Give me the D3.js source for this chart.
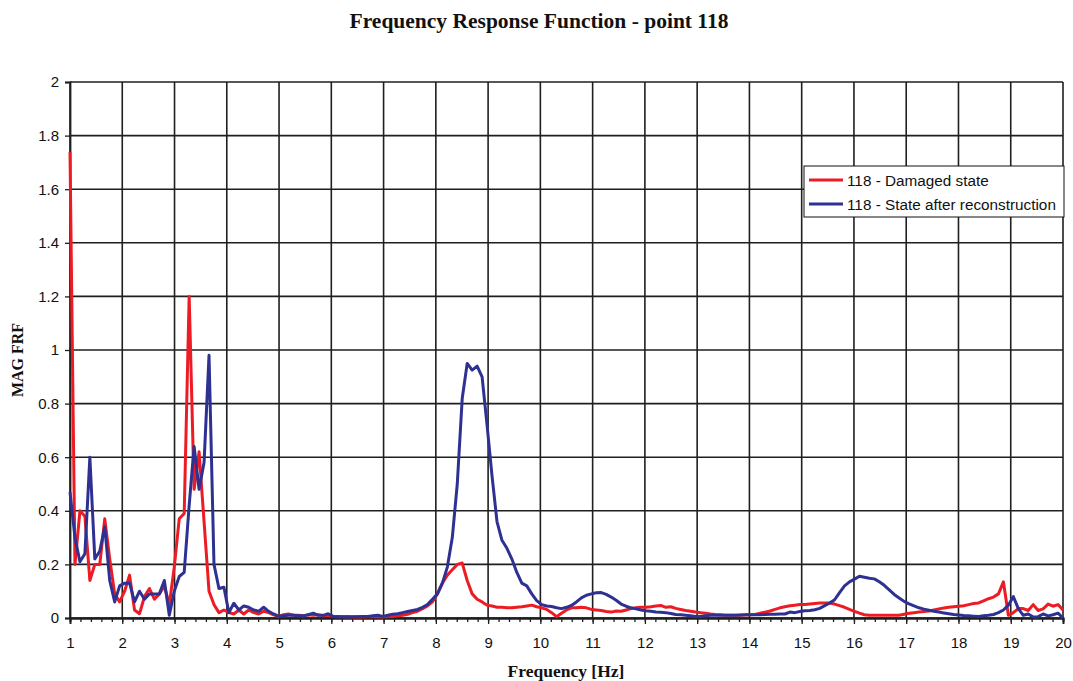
<!DOCTYPE html>
<html>
<head>
<meta charset="utf-8">
<script src="https://cdn.jsdelivr.net/npm/d3@7"></script>
<style>
  html, body { margin: 0; padding: 0; background: #fff; }
  svg { display: block; }
</style>
</head>
<body>
<svg id="chart" width="1073" height="681"></svg>
<script>
// Frequency grid: 201 spectral lines from 1 Hz to 20 Hz
const freqStart = 1;
const freqStep = 0.095;

// |FRF| magnitude, point 118, damaged state
const damaged = [
  1.74, 0.20, 0.40, 0.38, 0.14, 0.20, 0.20, 0.37, 0.22, 0.09,
  0.06, 0.10, 0.16, 0.03, 0.016, 0.08, 0.11, 0.07, 0.09, 0.12,
  0.05, 0.19, 0.37, 0.39, 1.20, 0.48, 0.62, 0.36, 0.10, 0.05,
  0.02, 0.03, 0.02, 0.015, 0.03, 0.015, 0.03, 0.02, 0.015, 0.025,
  0.02, 0.012, 0.006, 0.012, 0.015, 0.01, 0.01, 0.008, 0.012, 0.01,
  0.012, 0.008, 0.01, 0.006, 0.006, 0.005, 0.006, 0.004, 0.005, 0.004,
  0.005, 0.006, 0.005, 0.004, 0.006, 0.006, 0.008, 0.01, 0.014, 0.02,
  0.025, 0.035, 0.045, 0.06, 0.09, 0.13, 0.16, 0.18, 0.20, 0.205,
  0.14, 0.09, 0.07, 0.06, 0.048, 0.045, 0.04, 0.04, 0.038, 0.038,
  0.04, 0.042, 0.045, 0.048, 0.042, 0.038, 0.032, 0.02, 0.005, 0.018,
  0.03, 0.038, 0.038, 0.04, 0.038, 0.032, 0.03, 0.028, 0.024, 0.022,
  0.026, 0.025, 0.03, 0.035, 0.038, 0.04, 0.04, 0.042, 0.045, 0.047,
  0.04, 0.042, 0.036, 0.032, 0.028, 0.025, 0.022, 0.02, 0.018, 0.015,
  0.013, 0.012, 0.01, 0.01, 0.01, 0.01, 0.011, 0.012, 0.013, 0.018,
  0.022, 0.026, 0.032, 0.038, 0.042, 0.046, 0.048, 0.05, 0.05, 0.052,
  0.054, 0.056, 0.056, 0.056, 0.052, 0.046, 0.04, 0.032, 0.025, 0.018,
  0.012, 0.01, 0.01, 0.01, 0.01, 0.01, 0.01, 0.01, 0.014, 0.018,
  0.02, 0.022, 0.024, 0.026, 0.03, 0.034, 0.037, 0.04, 0.042, 0.044,
  0.046, 0.05, 0.054, 0.056, 0.064, 0.072, 0.078, 0.09, 0.135, 0.01,
  0.02, 0.035, 0.035, 0.028, 0.05, 0.028, 0.034, 0.052, 0.044, 0.05,
  0.03
];

// |FRF| magnitude, point 118, after reconstruction
const reconstructed = [
  0.47, 0.30, 0.21, 0.24, 0.60, 0.22, 0.25, 0.34, 0.14, 0.06,
  0.12, 0.13, 0.13, 0.06, 0.10, 0.07, 0.09, 0.09, 0.09, 0.14,
  0.01, 0.10, 0.155, 0.17, 0.42, 0.64, 0.48, 0.58, 0.98, 0.20,
  0.11, 0.115, 0.02, 0.055, 0.03, 0.045, 0.04, 0.03, 0.025, 0.04,
  0.025, 0.015, 0.007, 0.008, 0.01, 0.01, 0.008, 0.008, 0.012, 0.018,
  0.01, 0.01, 0.016, 0.006, 0.005, 0.005, 0.004, 0.005, 0.005, 0.006,
  0.006, 0.008, 0.01, 0.006, 0.01, 0.014, 0.016, 0.02, 0.024, 0.028,
  0.032, 0.04, 0.05, 0.07, 0.09, 0.13, 0.19, 0.30, 0.50, 0.82,
  0.95, 0.925, 0.94, 0.90, 0.72, 0.53, 0.36, 0.29, 0.26, 0.22,
  0.17, 0.13, 0.12, 0.09, 0.065, 0.05, 0.045, 0.043, 0.038, 0.035,
  0.04, 0.047, 0.06, 0.075, 0.085, 0.09, 0.094, 0.095, 0.088, 0.078,
  0.066, 0.052, 0.044, 0.038, 0.034, 0.03, 0.027, 0.025, 0.022, 0.021,
  0.02, 0.017, 0.013, 0.012, 0.01, 0.008, 0.006, 0.006, 0.008, 0.01,
  0.01, 0.01, 0.01, 0.01, 0.01, 0.011, 0.012, 0.012, 0.012, 0.012,
  0.013, 0.014, 0.014, 0.015, 0.015, 0.022, 0.02, 0.024, 0.027, 0.028,
  0.031, 0.036, 0.046, 0.056, 0.068, 0.095, 0.12, 0.135, 0.145, 0.156,
  0.152, 0.148, 0.146, 0.135, 0.122, 0.105, 0.088, 0.075, 0.062, 0.053,
  0.045, 0.038, 0.033, 0.029, 0.025, 0.022, 0.019, 0.016, 0.013, 0.011,
  0.009, 0.008, 0.007, 0.006, 0.008, 0.01, 0.013, 0.02, 0.03, 0.048,
  0.08, 0.035, 0.01, 0.015, 0.004, 0.005, 0.015, 0.008, 0.012, 0.018,
  0.0
];

const xTicks = d3.range(1, 21);            // 1 … 20 Hz
const xMinorTicks = d3.range(1, 20.001, 0.2);
const yTicks = [0, 0.2, 0.4, 0.6, 0.8, 1, 1.2, 1.4, 1.6, 1.8, 2];

const seriesNames = ["118 - Damaged state", "118 - State after reconstruction"];
const seriesColors = ["#ed1c24", "#2e3192"];

const svg = d3.select("#chart");
const margin = { left: 70, right: 10, top: 82, bottom: 63 };
const W = 1073, H = 681;
const x = d3.scaleLinear().domain([1, 20]).range([margin.left, W - margin.right]);
const y = d3.scaleLinear().domain([0, 2]).range([H - margin.bottom, margin.top]);

const gridColor = "#1f1f1f";
const sans = "'Liberation Sans', Arial, sans-serif";
const serif = "'Liberation Serif', 'Times New Roman', serif";

// Grid
const grid = svg.append("g");
grid.selectAll("line.v").data(xTicks).join("line")
  .attr("x1", d => x(d)).attr("x2", d => x(d))
  .attr("y1", y(0)).attr("y2", y(2))
  .attr("stroke", gridColor).attr("stroke-width", 1.6);
grid.selectAll("line.h").data(yTicks).join("line")
  .attr("x1", x(1)).attr("x2", x(20))
  .attr("y1", d => y(d)).attr("y2", d => y(d))
  .attr("stroke", gridColor).attr("stroke-width", 1.6);

// Axes
const xAxis = svg.append("g")
  .attr("transform", `translate(0,${y(0)})`)
  .call(d3.axisBottom(x).tickValues(xTicks).tickSize(6).tickPadding(13).tickFormat(d3.format("d")));
const xMinor = svg.append("g")
  .attr("transform", `translate(0,${y(0)})`)
  .call(d3.axisBottom(x).tickValues(xMinorTicks).tickSize(4).tickFormat(""));
const yAxis = svg.append("g")
  .attr("transform", `translate(${x(1)},0)`)
  .call(d3.axisLeft(y).tickValues(yTicks).tickSize(5).tickPadding(6).tickFormat(d => String(+d.toFixed(1))));

[xAxis, xMinor, yAxis].forEach(g => {
  g.select(".domain").attr("stroke", gridColor).attr("stroke-width", 1.8);
  g.selectAll(".tick line").attr("stroke", gridColor).attr("stroke-width", 1.3);
  g.selectAll(".tick text")
    .attr("fill", "#111")
    .style("font-family", sans)
    .style("font-size", "15px");
});

// Series
const line = d3.line()
  .x((d, i) => x(freqStart + i * freqStep))
  .y(d => y(d));

[damaged, reconstructed].forEach((vals, k) => {
  svg.append("path")
    .datum(vals)
    .attr("fill", "none")
    .attr("stroke", seriesColors[k])
    .attr("stroke-width", 3)
    .attr("stroke-linejoin", "round")
    .attr("d", line);
});

// Legend
const lg = svg.append("g").attr("transform", "translate(804,166)");
lg.append("rect").attr("width", 260).attr("height", 51)
  .attr("fill", "#fff").attr("stroke", "#111").attr("stroke-width", 1);
seriesNames.forEach((name, k) => {
  const yy = 14 + k * 24;
  lg.append("line").attr("x1", 5).attr("x2", 39).attr("y1", yy).attr("y2", yy)
    .attr("stroke", seriesColors[k]).attr("stroke-width", 3);
  lg.append("text").attr("x", 43).attr("y", yy + 5.5)
    .style("font-family", sans)
    .style("font-size", "15.3px").attr("fill", "#111").text(name);
});

// Titles
svg.append("text").attr("x", 539).attr("y", 28).attr("text-anchor", "middle")
  .style("font-family", serif)
  .style("font-weight", "bold").style("font-size", "21.5px").attr("fill", "#111")
  .text("Frequency Response Function - point 118");
svg.append("text").attr("x", 566).attr("y", 677).attr("text-anchor", "middle")
  .style("font-family", serif)
  .style("font-weight", "bold").style("font-size", "17.5px").attr("fill", "#111")
  .text("Frequency [Hz]");
svg.append("text").attr("transform", "translate(23,360) rotate(-90)").attr("text-anchor", "middle")
  .style("font-family", serif)
  .style("font-weight", "bold").style("font-size", "16px").attr("fill", "#111")
  .text("MAG FRF");
</script>
</body>
</html>
